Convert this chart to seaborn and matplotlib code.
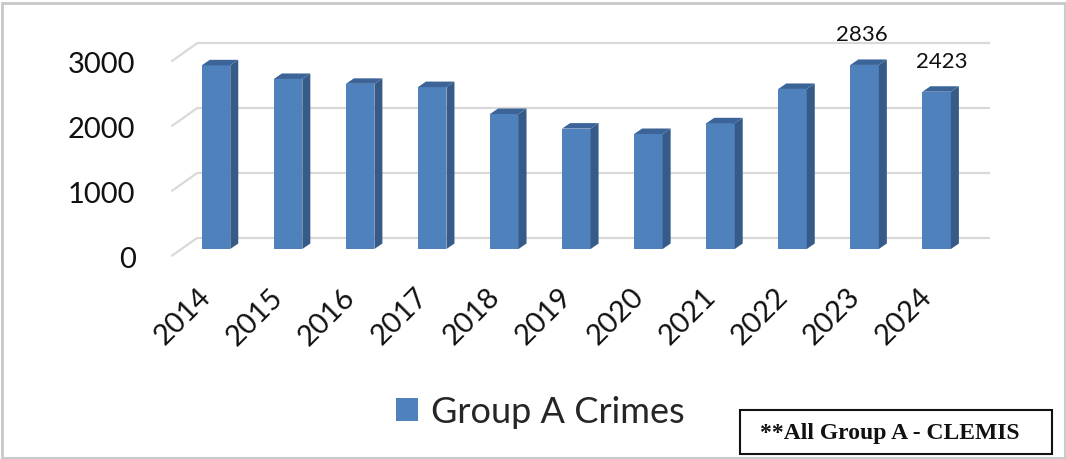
import matplotlib
matplotlib.use("Agg")
import matplotlib.pyplot as plt
from matplotlib.patches import Polygon, Rectangle
from matplotlib.transforms import ScaledTranslation
import seaborn as sns
import pandas as pd

# Annual Group A crime counts
years = ["2014", "2015", "2016", "2017", "2018", "2019",
         "2020", "2021", "2022", "2023", "2024"]
crimes = [2830, 2620, 2545, 2495, 2080, 1855, 1772, 1937, 2466, 2836, 2423]
labelled_years = ["2023", "2024"]
y_ticks = [0, 1000, 2000, 3000]
series_name = "Group A Crimes"
source_note = "**All Group A - CLEMIS"

FRONT = "#4F81BD"
SIDE = "#375B88"
TOP = "#3C6498"
GRID = "#D9D9D9"

sns.set_theme(style="white")
plt.rcParams["font.family"] = ["Lato", "DejaVu Sans"]

DPI = 100
W, H = 1066, 460
fig = plt.figure(figsize=(W / DPI, H / DPI), dpi=DPI)
fig.patch.set_facecolor("white")

# plot area in pixel terms
left_px, right_px = 180, 972.7
base_px, top_px = 250, 55.3
ax = fig.add_axes([left_px / W, (H - base_px) / H,
                   (right_px - left_px) / W, (base_px - top_px) / H])

df = pd.DataFrame({"year": years, "crimes": crimes})
sns.barplot(data=df, x="year", y="crimes", color=FRONT, saturation=1,
            width=0.395, ax=ax, label=series_name, zorder=3,
            edgecolor="none")
ax.set_xlim(-0.5, len(years) - 0.5)
ax.set_ylim(0, 3000)
for s in ax.spines.values():
    s.set_visible(False)
ax.set_xlabel("")
ax.set_ylabel("")

def px(x, y):
    return ScaledTranslation(x / DPI, y / DPI, fig.dpi_scale_trans)

# depth of each bar in data units
x_per_px = (len(years)) / (right_px - left_px)
y_per_px = 3000 / (base_px - top_px)
ddx, ddy = 8 * x_per_px, 5.5 * y_per_px
for p in ax.patches:
    x0, w, h = p.get_x(), p.get_width(), p.get_height()
    side = Polygon([(x0 + w, 0), (x0 + w, h), (x0 + w + ddx, h + ddy),
                    (x0 + w + ddx, ddy)], closed=True, facecolor=SIDE,
                   edgecolor="none", zorder=3, clip_on=False)
    top = Polygon([(x0, h), (x0 + w, h), (x0 + w + ddx, h + ddy),
                   (x0 + ddx, h + ddy)], closed=True, facecolor=TOP,
                   edgecolor="none", zorder=3, clip_on=False)
    ax.add_patch(side)
    ax.add_patch(top)

# back-wall gridlines with a slanted floor edge on the left
ytr = ax.get_yaxis_transform()
for v in y_ticks:
    ax.plot([0, 1], [v, v], transform=ytr + px(17, 11), color=GRID,
            lw=1.6, zorder=1, clip_on=False, solid_capstyle="butt")
    ax.annotate("", xy=(0, v), xycoords=ytr + px(17, 11),
                xytext=(-25, -17.7), textcoords="offset pixels",
                arrowprops=dict(arrowstyle="-", color=GRID, lw=1.6,
                                shrinkA=0, shrinkB=0), zorder=1)

ax.set_yticks(y_ticks)
ax.set_yticklabels([str(v) for v in y_ticks])
ax.tick_params(axis="y", length=0, pad=32, labelsize=21, labelcolor="#111111")
for lbl in ax.get_yticklabels():
    lbl.set_transform(lbl.get_transform() + px(0, -7))

ax.set_xticks(range(len(years)))
ax.set_xticklabels(years, rotation=45, ha="right", va="center",
                   rotation_mode="anchor")
ax.tick_params(axis="x", length=0, pad=31, labelsize=21, labelcolor="#111111")
for lbl in ax.get_xticklabels():
    lbl.set_transform(lbl.get_transform() + px(-9, 0))

# value labels
for i, (yr, v) in enumerate(zip(years, crimes)):
    if yr in labelled_years:
        ax.annotate(f"{v}", xy=(i, v), xytext=(-3 if yr == "2023" else 5, 31),
                    textcoords="offset pixels", ha="center", va="center",
                    fontsize=16, color="#111111")

leg = ax.legend(loc="center", bbox_to_anchor=(540 / W, 1 - 413 / H),
                bbox_transform=fig.transFigure, frameon=False, fontsize=26,
                handlelength=0.62, handleheight=0.62, handletextpad=0.35)

# source note box
fig.patches.append(Rectangle((740 / W, 1 - 455 / H), (1052 - 740) / W,
                             (455 - 411) / H, transform=fig.transFigure,
                             facecolor="white", edgecolor="#111111", lw=1.5))
fig.text(760 / W, 1 - 434 / H, source_note, ha="left", va="center",
         fontsize=17, fontweight="bold", family="Liberation Serif",
         color="#111111")

# outer chart border
fig.patches.append(Rectangle((1.5 / W, 1.5 / H), (W - 3) / W, (H - 5) / H,
                             transform=fig.transFigure, facecolor="none",
                             edgecolor="#C8C8C8", lw=2))

fig.savefig("out.png", dpi=DPI, facecolor="white")
